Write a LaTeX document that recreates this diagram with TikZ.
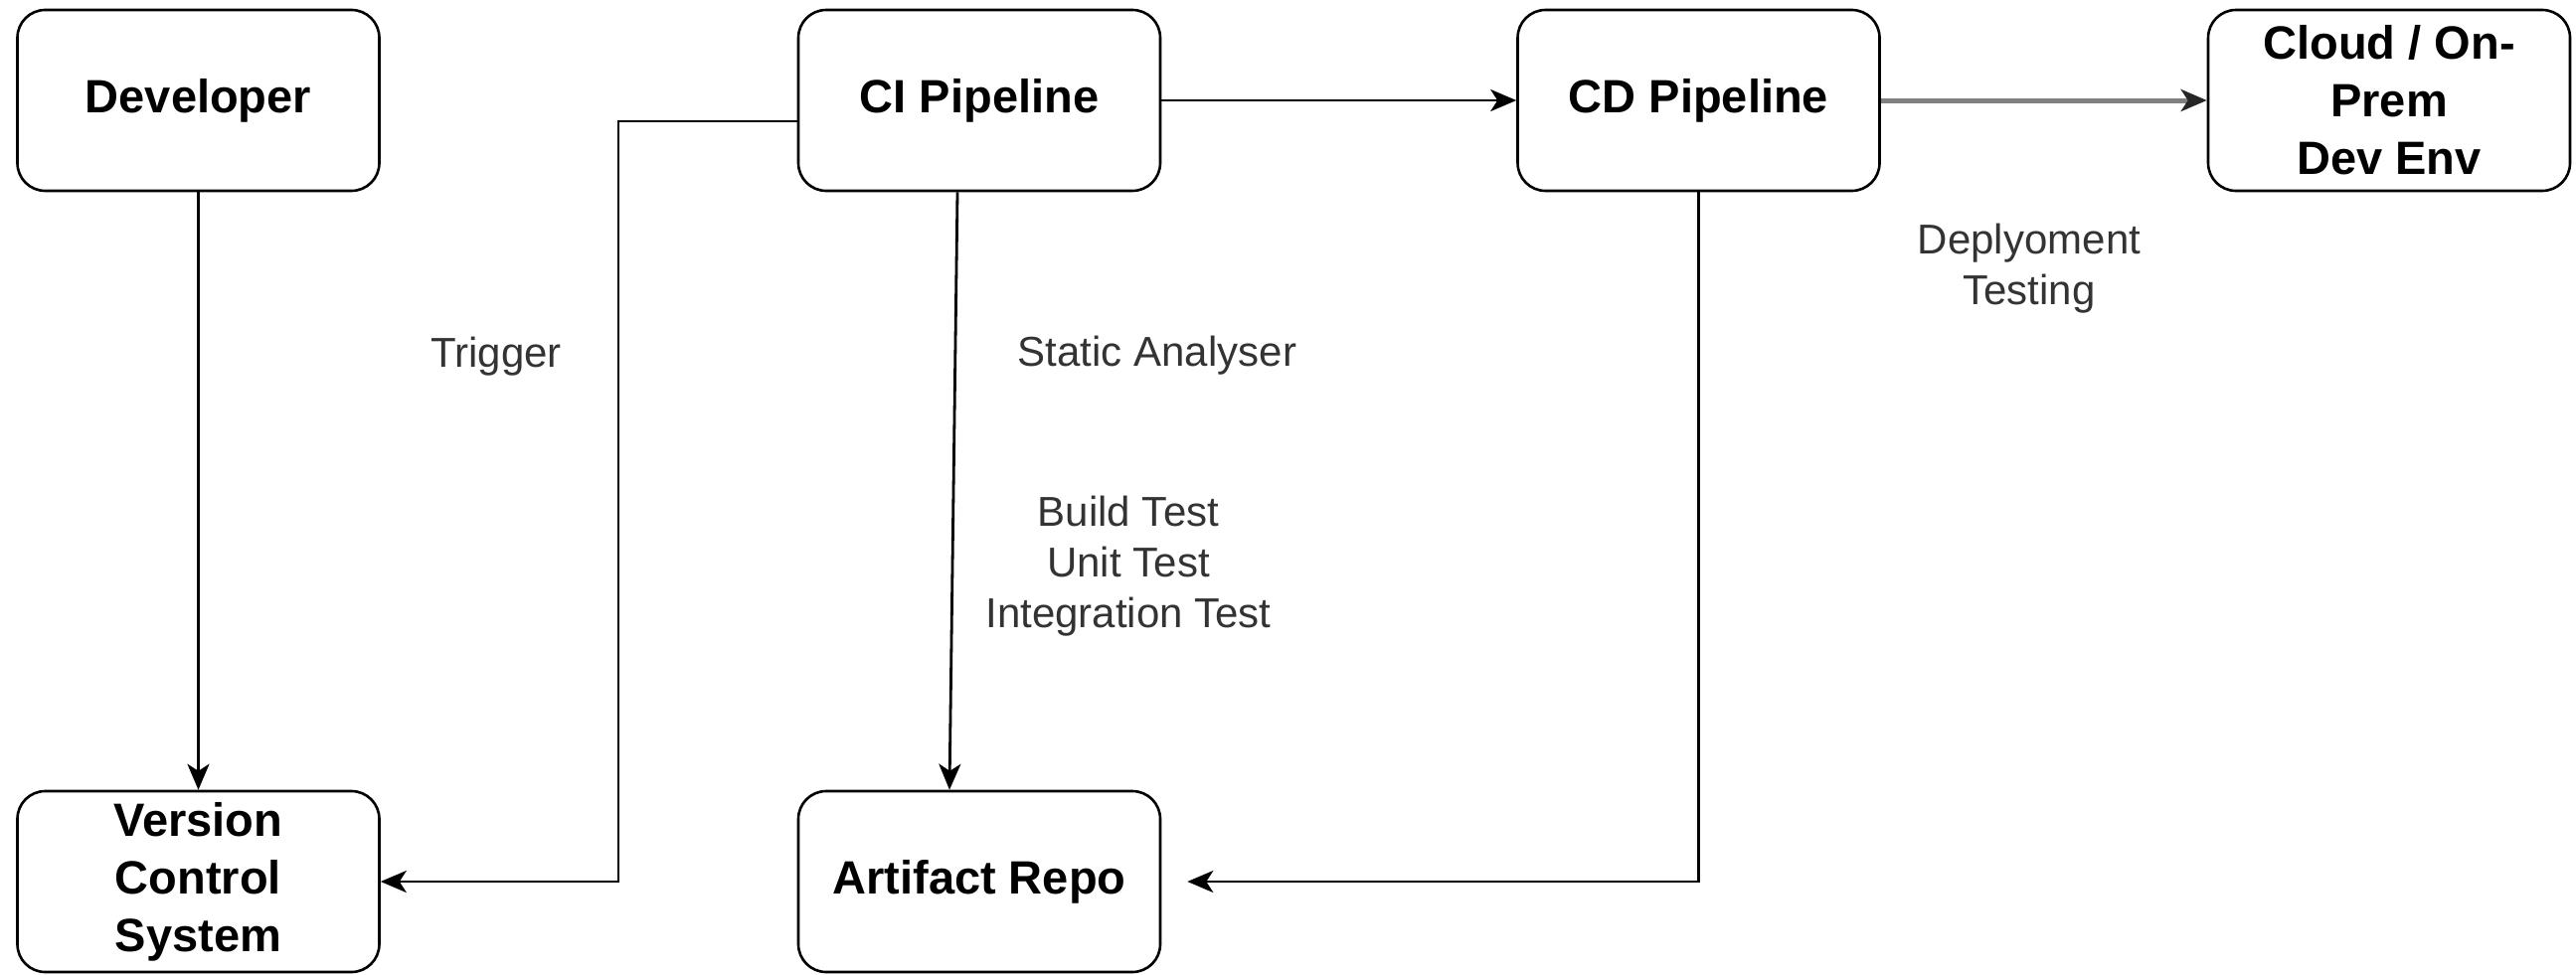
\documentclass[tikz,border=0pt]{standalone}
\usepackage{fontspec}
\setmainfont{Liberation Sans}
\usetikzlibrary{arrows.meta}
\begin{document}
\begin{tikzpicture}[x=1pt,y=-1pt,
  box/.style={draw=black, line width=2.6pt, rounded corners=28pt, fill=white,
    minimum width=364pt, minimum height=182pt, align=center, inner sep=0pt,
    font=\bfseries\fontsize{47}{58}\selectfont},
  lbl/.style={align=center, text=black!80, font=\fontsize{42}{51}\selectfont, inner sep=0pt},
  arr/.style={draw=black, line width=2.8pt, -{Stealth[length=26pt,width=22pt,inset=7pt]}},
  garr/.style={draw=black!50, line width=5pt, -{Stealth[length=26pt,width=22pt,inset=7pt,color=black!85]}}
]
\useasboundingbox (0,0) rectangle (2591,980);
\node[box] (dev) at (199.5,101) {Developer};
\node[box] (ci) at (985,101) {CI Pipeline};
\node[box] (cd) at (1708.5,101) {CD Pipeline};
\node[box] (cloud) at (2403,101) {Cloud / On-\\Prem\\Dev Env};
\node[box] (vcs) at (199.5,887) {Version\\Control\\System};
\node[box] (art) at (985,887) {Artifact Repo};

\node[lbl] (trig) at (499,359) {Trigger};
\node[lbl] (sa) at (1164,358) {Static Analyser};
\node[lbl] (tests) at (1135,570) {Build Test\\Unit Test\\Integration Test};
\node[lbl] (dep) at (2041,270) {Deplyoment\\Testing};

\coordinate (t) at (622,500);
\draw[arr] (dev.south) -- (vcs.north);
\draw[arr] ([yshift=-21pt]ci.west) -| (t) |- (vcs.east);
\draw[arr] ([xshift=-22pt]ci.south) -- ([xshift=-30pt]art.north);
\draw[arr] (ci.east) -- (cd.west);
\draw[garr] (cd.east) -- (cloud.west);
\draw[arr] (cd.south) |- ([xshift=26pt]art.east);
\end{tikzpicture}
\end{document}
